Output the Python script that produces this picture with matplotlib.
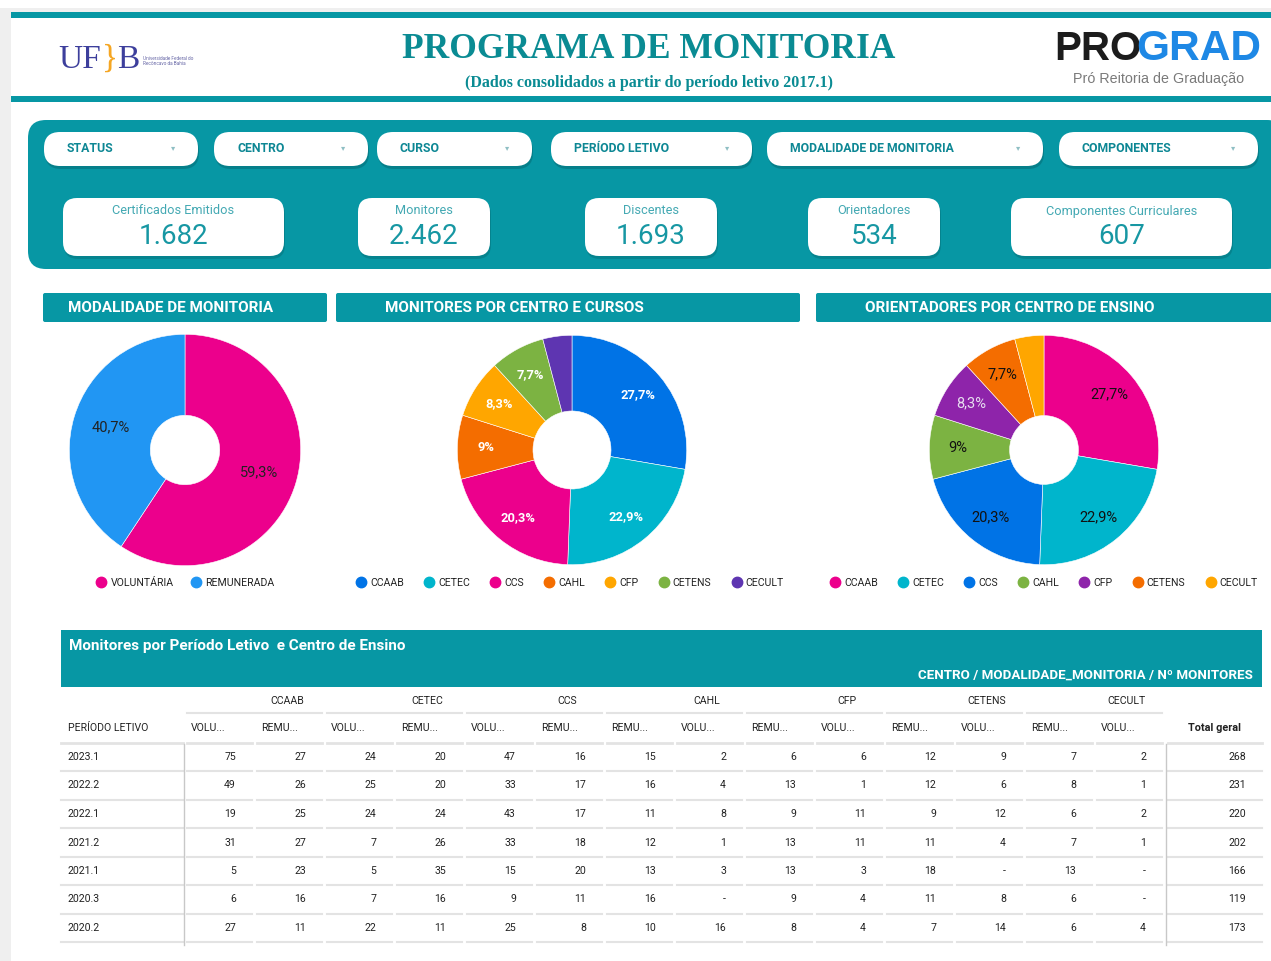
"""Painel do Programa de Monitoria (UFRB / PROGRAD), salvo em PNG."""
import matplotlib

matplotlib.use("Agg")
import matplotlib.pyplot as plt
from matplotlib.patches import FancyBboxPatch, Rectangle
from matplotlib.lines import Line2D

plt.rcParams["font.family"] = ["Roboto", "DejaVu Sans"]

# ---- dados ----
filtros = ["STATUS", "CENTRO", "CURSO", "PERÍODO LETIVO",
           "MODALIDADE DE MONITORIA", "COMPONENTES"]
kpi_labels = ["Certificados Emitidos", "Monitores", "Discentes",
              "Orientadores", "Componentes Curriculares"]
kpi_values = ["1.682", "2.462", "1.693", "534", "607"]

modalidades = ["VOLUNTÁRIA", "REMUNERADA"]
modalidade_pct = [59.3, 40.7]

centros = ["CCAAB", "CETEC", "CCS", "CAHL", "CFP", "CETENS", "CECULT"]
monitores_pct = [27.7, 22.9, 20.3, 9.0, 8.3, 7.7, 4.1]
orientadores_pct = [27.7, 22.9, 20.3, 9.0, 8.3, 7.7, 4.1]

periodos = ["2023.1", "2022.2", "2022.1", "2021.2", "2021.1", "2020.3", "2020.2"]
sub_colunas = ["VOLU...", "REMU...", "VOLU...", "REMU...", "VOLU...", "REMU...",
               "REMU...", "VOLU...", "REMU...", "VOLU...", "REMU...", "VOLU...",
               "REMU...", "VOLU..."]
tabela = [
    [75, 27, 24, 20, 47, 16, 15, 2, 6, 6, 12, 9, 7, 2],
    [49, 26, 25, 20, 33, 17, 16, 4, 13, 1, 12, 6, 8, 1],
    [19, 25, 24, 24, 43, 17, 11, 8, 9, 11, 9, 12, 6, 2],
    [31, 27, 7, 26, 33, 18, 12, 1, 13, 11, 11, 4, 7, 1],
    [5, 23, 5, 35, 15, 20, 13, 3, 13, 3, 18, None, 13, None],
    [6, 16, 7, 16, 9, 11, 16, None, 9, 4, 11, 8, 6, None],
    [27, 11, 22, 11, 25, 8, 10, 16, 8, 4, 7, 14, 6, 4],
]
total_geral = [268, 231, 220, 202, 166, 119, 173]

# ---- estilo ----
TEAL = "#0797a4"
PINK, BLUE, CYAN = "#ec008c", "#0073e6", "#00b5cc"
ORANGE, GOLD, GREEN, PURPLE = "#f46d00", "#ffa600", "#7cb342", "#5e35b1"

W, H = 1271, 961
fig = plt.figure(figsize=(W / 100, H / 100), dpi=100)
bg = fig.add_axes([0, 0, 1, 1])
bg.set_xlim(0, W)
bg.set_ylim(H, 0)
bg.axis("off")


def rbox(x0, y0, x1, y1, r, fc, z=1, alpha=1.0):
    bg.add_patch(FancyBboxPatch((x0, y0), x1 - x0, y1 - y0,
                                boxstyle=f"round,pad=0,rounding_size={r}",
                                fc=fc, ec="none", zorder=z, alpha=alpha))


# moldura da página
bg.add_patch(Rectangle((0, 8), 11, H, fc="#efefef", ec="none"))
bg.add_patch(Rectangle((0, 8), W, 4, fc="#efefef", ec="none"))
bg.add_patch(Rectangle((11, 12), W, 6, fc=TEAL, ec="none"))
bg.add_patch(Rectangle((11, 96), W, 6, fc=TEAL, ec="none"))

# cabeçalho
bg.text(649, 50, "PROGRAMA DE MONITORIA", family="Liberation Serif",
        weight="bold", size=25.5, color="#0a8b93", ha="center", va="center")
bg.text(649, 83, "(Dados consolidados a partir do período letivo 2017.1)",
        family="Liberation Serif", weight="bold", size=11.5, color="#0a8b93",
        ha="center", va="center")

# logo UFRB
bg.text(58, 60, "UF", family="Liberation Serif", size=24, color="#3d3f9c",
        ha="left", va="center")
bg.text(102, 58, "}", family="Liberation Serif", size=24, color="#f5a623",
        ha="left", va="center")
bg.text(117, 60, "B", family="Liberation Serif", size=24, color="#3d3f9c",
        ha="left", va="center")
bg.text(143, 61, "Universidade Federal do\nRecôncavo da Bahia", size=3.4,
        color="#6a6aa8", ha="left", va="center", linespacing=1.2)

# logo PROGRAD
bg.text(1054, 49, "PRO", family="Liberation Sans", weight="bold", size=29,
        color="#1c1c1c", ha="left", va="center")
bg.text(1136, 49, "GRAD", family="Liberation Sans", weight="bold", size=30.5,
        color="#1e88e5", ha="left", va="center")
bg.text(1159, 79, "Pró Reitoria de Graduação", family="Liberation Sans",
        size=10.3, color="#7a7a7a", ha="center", va="center")

# painel de filtros e indicadores
rbox(28, 120, 1285, 269, 18, TEAL)
filtro_x = [(44, 198), (214, 368), (377, 532), (551, 752), (767, 1043), (1059, 1258)]
for nome, (x0, x1) in zip(filtros, filtro_x):
    rbox(x0 + 1, 135, x1 + 1, 169, 16, "#05707a", z=2, alpha=0.6)
    rbox(x0, 132, x1, 166, 16, "white", z=3)
    bg.text(x0 + 23, 149, nome, size=8.8, weight="bold", color="#0d8794",
            ha="left", va="center", zorder=4)
    bg.text(x1 - 25, 148, "▾", size=6, color="#8fbfc4", ha="center",
            va="center", zorder=4)

kpi_x = [(63, 284), (358, 490), (585, 717), (808, 940), (1011, 1232)]
for lab, val, (x0, x1) in zip(kpi_labels, kpi_values, kpi_x):
    rbox(x0 + 1, 200, x1 + 1, 259, 14, "#05707a", z=2, alpha=0.5)
    rbox(x0, 198, x1, 256, 14, "white", z=3)
    xc = (x0 + x1) / 2
    bg.text(xc, 211, lab, size=9.2, color="#44a9b3", ha="center",
            va="center", zorder=4)
    bg.text(xc, 237, val, size=20, color="#1797a3", ha="center",
            va="center", zorder=4)

# títulos das seções
secoes = [("MODALIDADE DE MONITORIA", 43, 327, 68),
          ("MONITORES POR CENTRO E CURSOS", 336, 800, 385),
          ("ORIENTADORES POR CENTRO DE ENSINO", 816, 1290, 865)]
for txt, x0, x1, tx in secoes:
    rbox(x0, 293, x1, 322, 2, TEAL)
    bg.text(tx, 308, txt, size=11, weight="bold", color="white",
            ha="left", va="center")


def donut(cx, cy, r, vals, cores, txt_cores, hole, pctd, bold, fs):
    ax = fig.add_axes([(cx - r) / W, 1 - (cy + r) / H, 2 * r / W, 2 * r / H])

    def fmt(p):
        if p < 5:
            return ""
        s = f"{p:.1f}".replace(".", ",")
        return (s[:-2] if s.endswith(",0") else s) + "%"

    wedges, _, autotexts = ax.pie(vals, colors=cores, startangle=90,
                                  counterclock=False, autopct=fmt,
                                  pctdistance=pctd,
                                  wedgeprops=dict(width=1 - hole, ec="white",
                                                  lw=0.4),
                                  textprops=dict(size=fs, weight=bold))
    for t, c in zip(autotexts, txt_cores):
        t.set_color(c)
    ax.set_xlim(-1.02, 1.02)
    ax.set_ylim(-1.02, 1.02)
    return ax


def legenda(xc, nomes, cores, spacing):
    handles = [Line2D([], [], ls="none", marker="o", ms=7.5, mfc=c, mec=c)
               for c in cores]
    fig.legend(handles, nomes, loc="center", bbox_to_anchor=(xc / W, 1 - 583 / H),
               ncol=len(nomes), frameon=False, fontsize=7.6, handletextpad=0.35,
               columnspacing=spacing, handlelength=1.0, labelcolor="#222222")


donut(185, 450, 118, modalidade_pct, [PINK, "#2196f3"], ["#222"] * 2, 0.3,
      0.67, "normal", 10.5)
legenda(185, modalidades, [PINK, "#2196f3"], 1.6)

cores_mon = [BLUE, CYAN, PINK, ORANGE, GOLD, GREEN, PURPLE]
donut(572, 450, 117, monitores_pct, cores_mon, ["white"] * 7, 0.34, 0.75,
      "bold", 9.3)
legenda(570, centros, cores_mon, 1.9)

cores_ori = [PINK, CYAN, BLUE, GREEN, "#8e24aa", ORANGE, GOLD]
txt_ori = ["#111", "#111", "#111", "#111", "#e6dcef", "#111", "#111"]
donut(1044, 450, 117, orientadores_pct, cores_ori, txt_ori, 0.3, 0.75,
      "normal", 10.5)
legenda(1044, centros, cores_ori, 1.9)

# tabela
bg.add_patch(Rectangle((61, 630), 1201, 57, fc=TEAL, ec="none"))
bg.text(69, 646, "Monitores por Período Letivo  e Centro de Ensino", size=11,
        weight="bold", color="white", ha="left", va="center")
bg.text(1253, 675, "CENTRO / MODALIDADE_MONITORIA / Nº MONITORES", size=9.6,
        weight="bold", color="white", ha="right", va="center")

col0, cw = 185, 70
tot0, tot1 = 1166, 1262
line_c = "#e3e3e3"
txt_kw = dict(size=7.6, color="#222", va="center")
for g, nome in enumerate(centros):
    xs = col0 + 2 * g * cw
    bg.text(xs + cw + 32, 701, nome, ha="center", **txt_kw)
    bg.plot([xs + 2, xs + 2 * cw - 3], [713, 713], color=line_c, lw=1.5)

bg.text(68, 728, "PERÍODO LETIVO", ha="left", **txt_kw)
for i, nome in enumerate(sub_colunas):
    bg.text(col0 + i * cw + 6, 728, nome, ha="left", **txt_kw)
bg.text(1215, 728, "Total geral", size=7.8, weight="bold",
        color="#222", ha="center", va="center")

row_y0, rh = 757, 28.5


def seg_lines(y, lw):
    bg.plot([61, col0 - 2], [y, y], color=line_c, lw=lw)
    for i in range(len(sub_colunas)):
        bg.plot([col0 + i * cw + 2, col0 + (i + 1) * cw - 3], [y, y],
                color=line_c, lw=lw)
    bg.plot([tot0 + 2, tot1], [y, y], color=line_c, lw=lw)


seg_lines(743, 2)
for r, (per, linha, tot) in enumerate(zip(periodos, tabela, total_geral)):
    y = row_y0 + r * rh
    bg.text(68, y, per, ha="left", **txt_kw)
    for i, v in enumerate(linha):
        bg.text(col0 + i * cw + 51, y, "-" if v is None else str(v),
                ha="right", **txt_kw)
    bg.text(1246, y, str(tot), ha="right", **txt_kw)
    seg_lines(y + rh / 2, 1.5)

bg.plot([184, 184], [744, 945], color="#c8c8c8", lw=1)
bg.plot([tot0, tot0], [744, 945], color="#c8c8c8", lw=1)

fig.savefig("out.png", dpi=100)
